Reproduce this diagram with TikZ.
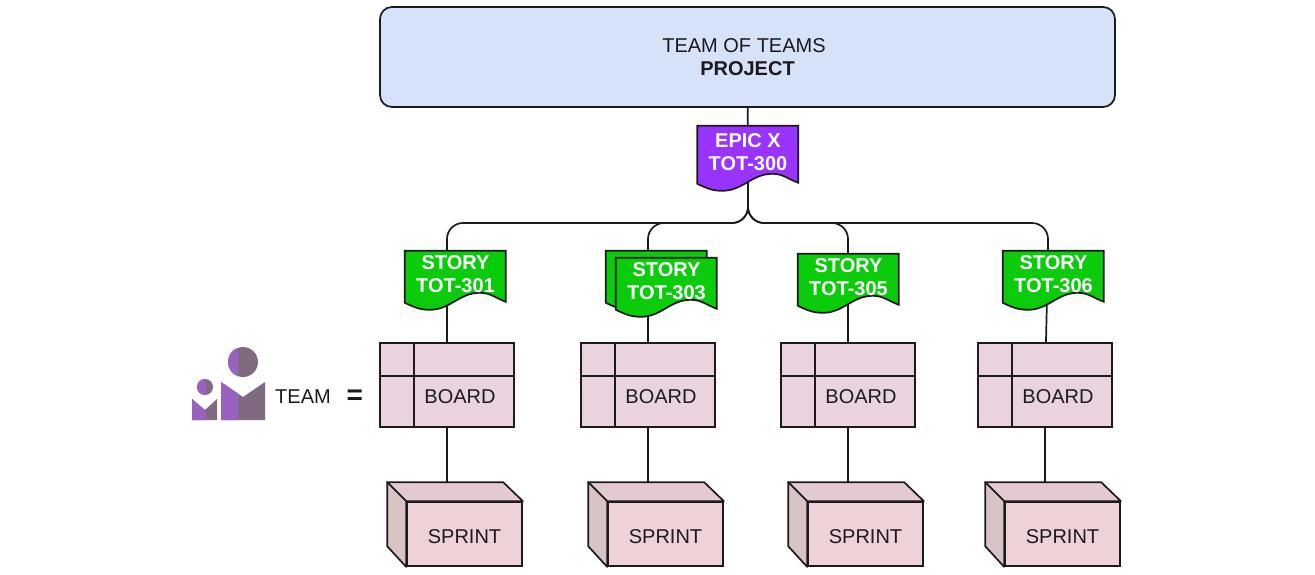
\documentclass[tikz,border=0pt]{standalone}
\usepackage{fontspec}
\setmainfont{Liberation Sans}
\usetikzlibrary{positioning, backgrounds}
\definecolor{inkline}{HTML}{1C1A1E}
\definecolor{projectblue}{HTML}{D6E2F8}
\definecolor{epicpurple}{HTML}{9933FF}
\definecolor{storygreen}{HTML}{0ACC0A}
\definecolor{boardpink}{HTML}{E9D3DE}
\definecolor{sprintpink}{HTML}{EDD2D8}
\definecolor{sprinttop}{HTML}{E2CAD0}
\definecolor{sprintside}{HTML}{D8C4C4}
\definecolor{icongray}{HTML}{7F6A80}
\definecolor{iconpurple}{HTML}{9A62C0}
\tikzset{
x=1pt, y=1pt,
wire/.style={line width=1.7pt, draw=inkline, rounded corners=16pt}, % all the connecting lines
labeltext/.style={font=\fontsize{20}{23}\selectfont, text=inkline, align=center},
project/.style={labeltext, draw=inkline, line width=1.7pt, fill=projectblue, rounded corners=12pt, minimum width=735pt, minimum height=100pt},
doc/.style={font=\fontsize{20}{23}\selectfont\bfseries, text=white, align=center, inner sep=0pt, minimum width=101pt, minimum height=46pt},
board/.style={draw=inkline, line width=1.7pt, fill=boardpink, minimum width=134pt, minimum height=84pt, inner sep=0pt,
    path picture={\draw[line width=1.7pt, draw=inkline]
        ([xshift=34pt]path picture bounding box.north west) -- ([xshift=34pt]path picture bounding box.south west)
        ([yshift=-33pt]path picture bounding box.north west) -- ([yshift=-33pt]path picture bounding box.north east);}},
boardtext/.style={labeltext, xshift=13pt, yshift=-12pt},
sprint/.style={labeltext, draw=inkline, line width=1.7pt, fill=sprintpink, minimum width=115pt, minimum height=64pt, text height=18pt, text depth=0pt},
}
% wavy document outline, from its top left corner
\newcommand{\docshape}[3]{
    \draw[line width=1.7pt, draw=inkline, fill=#2] (#1) -- ++(101,0) -- ++(0,-#3)
        to[out=160, in=0] ++(-26,9) to[out=180, in=0] ++(-50,-17) to[out=180, in=-25] ++(-25,7) -- cycle;
}
% side and top of a sprint block
\newcommand{\sprintfaces}[1]{
    \draw[line width=1.7pt, draw=inkline, fill=sprinttop, line join=round] (#1.north west) -- ++(-19,19) -- ++(116,0) -- (#1.north east) -- cycle;
    \draw[line width=1.7pt, draw=inkline, fill=sprintside, line join=round] (#1.north west) -- ++(-19,19) -- ++(0,-64) -- (#1.south west) -- cycle;
}
\begin{document}
\begin{tikzpicture}
    \useasboundingbox (0,0) rectangle (1315,-574);

    \node[project] (project) at (747.5,-57) {TEAM OF TEAMS\hspace{7pt}\mbox{}\\\textbf{PROJECT}};
    \node[doc, minimum height=53pt] (epic) at (748,-152.5) {EPIC X\\TOT-300};
    \coordinate (bus) at (748,-223);

    \node[doc] (story_301) at (455.5,-274) {STORY\\TOT-301};
    \node[doc] (story_303) at (666.5,-281) {STORY\\TOT-303};
    \node[doc] (story_305) at (848.5,-277) {STORY\\TOT-305};
    \node[doc] (story_306) at (1053.5,-274) {STORY\\TOT-306};

    \node[board, label={[boardtext]center:BOARD}] (board_301) at (447,-385) {};
    \node[board, label={[boardtext]center:BOARD}] (board_303) at (648,-385) {};
    \node[board, label={[boardtext]center:BOARD}] (board_305) at (848,-385) {};
    \node[board, label={[boardtext]center:BOARD}] (board_306) at (1045,-385) {};

    \node[sprint] (sprint_301) at (464.5,-534) {SPRINT};
    \node[sprint] (sprint_303) at (665.5,-534) {SPRINT};
    \node[sprint] (sprint_305) at (865.5,-534) {SPRINT};
    \node[sprint] (sprint_306) at (1062.5,-534) {SPRINT};

    \node[labeltext] (team) at (303,-397) {TEAM};
    \node[right=12pt of team, font=\fontsize{28}{28}\selectfont\bfseries, text=inkline, inner sep=0pt] (equals) {=};

    \begin{scope}[on background layer]
        \draw[wire] (project) -- (epic);
        \draw[wire] (board_301 |- story_301.north) |- (bus) -- (epic.south);
        \draw[wire] (board_303 |- story_303.north) |- (bus) -- (epic.south);
        \draw[wire] (board_305 |- story_305.north) |- (bus) -- (epic.south);
        \draw[wire] ([xshift=3pt]board_306 |- story_306.north) |- (bus) -- (epic.south);
        %
        \draw[wire] (board_301 |- story_301.south) -- (board_301);
        \draw[wire] (board_303 |- story_303.south) -- (board_303);
        \draw[wire] (board_305 |- story_305.south) -- (board_305);
        \draw[wire] ([xshift=2pt]board_306 |- story_306.south) -- (board_306);
        %
        \draw[wire] (board_301) -- (board_301 |- sprint_301.north);
        \draw[wire] (board_303) -- (board_303 |- sprint_303.north);
        \draw[wire] (board_305) -- (board_305 |- sprint_305.north);
        \draw[wire] (board_306) -- (board_306 |- sprint_306.north);
        %
        \docshape{epic.north west}{epicpurple}{57}
        \docshape{story_301.north west}{storygreen}{51}
        \docshape{[shift={(-10pt,7pt)}]story_303.north west}{storygreen}{51}
        \docshape{story_303.north west}{storygreen}{51}
        \docshape{story_305.north west}{storygreen}{51}
        \docshape{story_306.north west}{storygreen}{51}
        %
        \sprintfaces{sprint_301}
        \sprintfaces{sprint_303}
        \sprintfaces{sprint_305}
        \sprintfaces{sprint_306}
    \end{scope}

    % team icon
    \fill[icongray] (243,-362) circle (15);
    \fill[icongray] (221,-382) -- (243,-397) -- (265,-382) -- (265,-420) -- (221,-420) -- cycle;
    \fill[icongray] (205,-387) circle (8);
    \fill[icongray] (192,-399) -- (205,-410) -- (217,-399) -- (217,-420) -- (192,-420) -- cycle;
    \begin{scope}
        \clip (190,-340) rectangle (238,-425);
        \fill[iconpurple] (243,-362) circle (15);
        \fill[iconpurple] (221,-382) -- (243,-397) -- (265,-382) -- (265,-420) -- (221,-420) -- cycle;
    \end{scope}
    \begin{scope}
        \clip (190,-375) rectangle (206,-425);
        \fill[iconpurple] (205,-387) circle (8);
        \fill[iconpurple] (192,-399) -- (205,-410) -- (217,-399) -- (217,-420) -- (192,-420) -- cycle;
    \end{scope}
\end{tikzpicture}
\end{document}
